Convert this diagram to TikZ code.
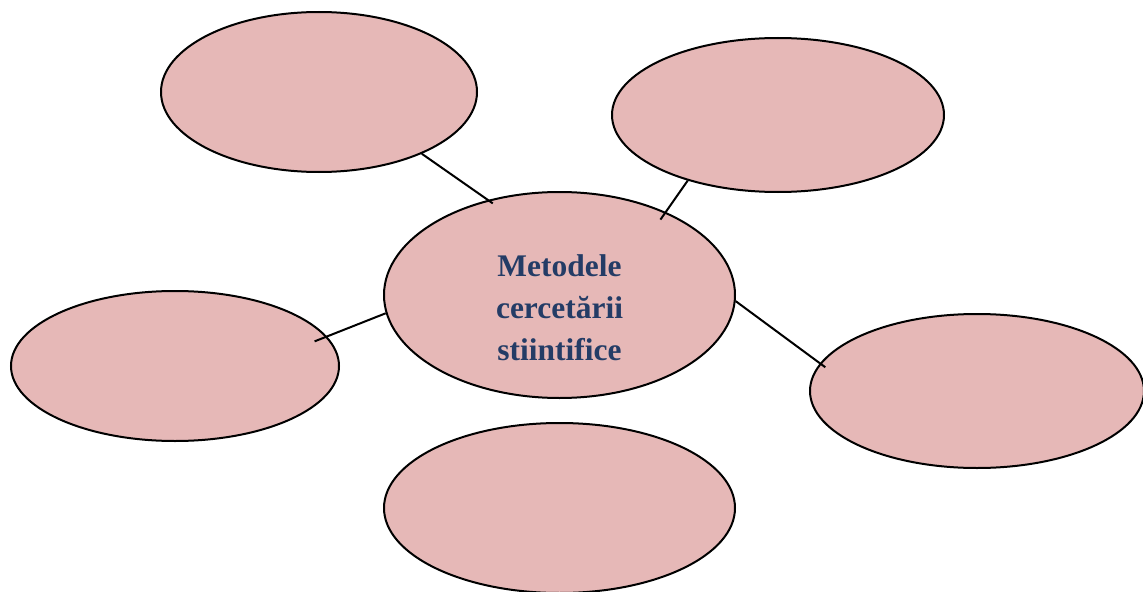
\documentclass[tikz,border=0pt]{standalone}
\usepackage{fontspec}
\setmainfont{Liberation Serif}
\usetikzlibrary{shapes.geometric}
\definecolor{bubble}{RGB}{230,184,183}
\definecolor{titleblue}{RGB}{36,60,102}
\tikzset{
  bub/.style={ellipse, draw=black, line width=1.5pt, fill=bubble, inner sep=0pt},
  link/.style={draw=black, line width=1.5pt},
}
\begin{document}
\begin{tikzpicture}[x=0.75pt, y=-0.75pt]
\useasboundingbox (0,0) rectangle (1143,592);
\node[bub, minimum width=316*0.75pt, minimum height=160*0.75pt] (A) at (319,92) {};
\node[bub, minimum width=332*0.75pt, minimum height=154*0.75pt] (B) at (778,115) {};
\node[bub, minimum width=351*0.75pt, minimum height=206*0.75pt] (C) at (559.5,295) {};
\node[bub, minimum width=328*0.75pt, minimum height=150*0.75pt] (D) at (175,366) {};
\node[bub, minimum width=334*0.75pt, minimum height=154*0.75pt] (E) at (977,391) {};
\node[bub, minimum width=351*0.75pt, minimum height=170*0.75pt] (F) at (559.5,508) {};
\node[align=center, text=titleblue, inner sep=0pt,
      font=\fontsize{23.6}{31.5}\selectfont\bfseries] (T) at (559.5,307.5)
  {Metodele\\cercetării\\stiintifice};
\draw[link, shorten >=-4.5pt] (A.-31) -- (C.127);
\draw[link, shorten >=-7pt] (B.216) -- (C.38);
\draw[link, shorten <=-10pt] (D.11) -- (C.186);
\draw[link, shorten >=-5pt] (C.-2) -- (E.170);
\end{tikzpicture}
\end{document}
